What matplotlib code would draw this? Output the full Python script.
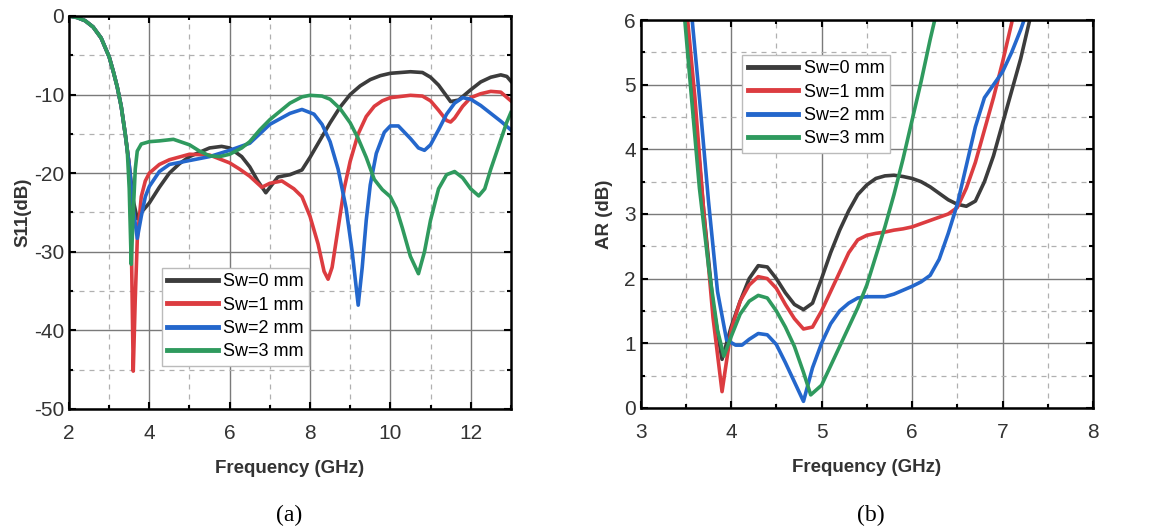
import numpy as np
import matplotlib
matplotlib.use('Agg')
import matplotlib.pyplot as plt
from matplotlib.ticker import MultipleLocator

plt.rcParams['font.family'] = ['Liberation Sans', 'DejaVu Sans']
plt.rcParams['axes.unicode_minus'] = False

# ---- (a) S11 data ----
common_f = [2.0, 2.2, 2.4, 2.6, 2.8, 3.0, 3.1, 3.2, 3.3, 3.4, 3.5]
common_s = [0.0, -0.2, -0.6, -1.4, -2.8, -5.2, -7.0, -9.0, -11.5, -15.0, -19.0]

s0_f = common_f + [3.6, 3.7, 3.8, 4.0, 4.25, 4.5, 4.75, 5.0, 5.5, 5.8, 6.0, 6.3, 6.5, 6.7, 6.9, 7.05,
                   7.2, 7.5, 7.8, 8.0, 8.25, 8.5, 8.75, 9.0, 9.25, 9.5, 9.75, 10.0, 10.5, 10.8, 11.0,
                   11.2, 11.4, 11.5, 11.7, 12.0, 12.25, 12.5, 12.75, 12.9, 13.0]
s0_v = common_s + [-23.5, -25.8, -25.0, -23.8, -21.8, -20.0, -18.8, -17.9, -16.8, -16.6, -16.8, -17.9,
                   -19.2, -21.0, -22.5, -21.5, -20.5, -20.2, -19.6, -18.0, -15.8, -13.6, -11.6, -10.0,
                   -8.9, -8.1, -7.6, -7.3, -7.1, -7.2, -7.8, -8.8, -10.2, -10.9, -10.7, -9.4, -8.4,
                   -7.8, -7.5, -7.7, -8.3]

s1_f = common_f + [3.55, 3.6, 3.65, 3.7, 3.8, 3.9, 4.0, 4.25, 4.5, 5.0, 5.5, 6.0, 6.25, 6.5, 6.8, 7.0,
                   7.3, 7.6, 7.8, 8.0, 8.2, 8.35, 8.45, 8.55, 8.7, 8.85, 9.0, 9.2, 9.4, 9.6, 9.8, 10.0,
                   10.5, 10.8, 11.0, 11.2, 11.4, 11.5, 11.6, 11.8, 12.0, 12.25, 12.5, 12.75, 13.0]
s1_v = common_s + [-28.0, -45.2, -36.0, -28.5, -23.0, -21.0, -20.0, -18.9, -18.3, -17.6, -17.7, -18.7,
                   -19.5, -20.4, -21.8, -21.3, -21.0, -22.0, -23.0, -25.5, -29.0, -32.5, -33.5, -32.0,
                   -27.0, -22.0, -18.5, -15.0, -12.8, -11.5, -10.8, -10.4, -10.1, -10.2, -10.8, -12.0,
                   -13.3, -13.5, -13.0, -11.5, -10.4, -9.9, -9.6, -9.7, -10.8]

s2_f = common_f + [3.6, 3.7, 3.8, 3.9, 4.0, 4.25, 4.5, 5.0, 5.5, 6.0, 6.5, 6.75, 7.0, 7.5, 7.8, 8.1,
                   8.3, 8.5, 8.7, 8.9, 9.05, 9.2, 9.3, 9.4, 9.5, 9.65, 9.85, 10.0, 10.2, 10.5, 10.7,
                   10.85, 11.0, 11.2, 11.4, 11.6, 11.8, 12.0, 12.25, 12.5, 12.75, 13.0]
s2_v = common_s + [-24.5, -28.3, -25.5, -23.0, -21.7, -19.8, -18.9, -18.4, -17.9, -17.1, -16.2, -15.0,
                   -13.8, -12.4, -11.9, -12.5, -13.8, -16.0, -19.5, -24.5, -30.0, -36.8, -32.0, -26.0,
                   -21.5, -17.5, -14.8, -14.0, -14.0, -15.6, -16.8, -17.1, -16.4, -14.5, -12.5, -11.1,
                   -10.4, -10.6, -11.4, -12.4, -13.4, -14.5]

s3_f = common_f[:-1] + [3.45, 3.5, 3.55, 3.6, 3.65, 3.7, 3.8, 4.0, 4.25, 4.6, 5.0, 5.25, 5.5, 5.75, 6.0,
                        6.3, 6.5, 6.75, 7.0, 7.5, 7.8, 8.0, 8.3, 8.5, 8.75, 9.0, 9.2, 9.4, 9.6, 9.8,
                        10.0, 10.15, 10.3, 10.5, 10.7, 10.85, 11.0, 11.2, 11.4, 11.6, 11.8, 12.0, 12.2,
                        12.35, 12.5, 12.7, 12.9, 13.0]
s3_v = common_s[:-1] + [-17.0, -22.0, -31.6, -25.0, -19.5, -17.2, -16.3, -16.0, -15.9, -15.7, -16.4,
                        -17.2, -17.8, -17.9, -17.6, -16.8, -16.0, -14.5, -13.2, -11.1, -10.3, -10.1,
                        -10.2, -10.6, -11.8, -13.6, -15.6, -18.0, -20.8, -22.1, -23.0, -24.5, -27.0,
                        -30.6, -32.8, -30.0, -26.0, -22.0, -20.2, -19.8, -20.6, -22.0, -22.9, -22.0,
                        -19.5, -16.5, -13.5, -12.3]

# ---- (b) AR data ----
ar0_f = [3.48, 3.6, 3.7, 3.8, 3.9, 4.0, 4.1, 4.2, 4.3, 4.4, 4.5, 4.6, 4.7, 4.8, 4.9, 5.0, 5.1, 5.2, 5.3,
         5.4, 5.5, 5.6, 5.7, 5.8, 5.9, 6.0, 6.1, 6.2, 6.3, 6.4, 6.5, 6.6, 6.7, 6.8, 6.9, 7.0, 7.1, 7.2,
         7.3, 7.35]
ar0_v = [6.3, 4.6, 3.0, 1.6, 0.75, 1.25, 1.65, 2.0, 2.2, 2.18, 2.0, 1.78, 1.6, 1.52, 1.62, 2.0, 2.4,
         2.75, 3.05, 3.3, 3.45, 3.55, 3.59, 3.6, 3.58, 3.55, 3.5, 3.42, 3.32, 3.22, 3.15, 3.12, 3.2,
         3.5, 3.9, 4.4, 4.9, 5.4, 6.0, 6.3]

ar1_f = [3.5, 3.6, 3.7, 3.8, 3.9, 4.0, 4.1, 4.2, 4.3, 4.4, 4.5, 4.6, 4.7, 4.8, 4.9, 5.0, 5.1, 5.2, 5.3,
         5.4, 5.5, 5.6, 5.7, 5.8, 5.9, 6.0, 6.2, 6.4, 6.5, 6.6, 6.7, 6.8, 6.9, 7.0, 7.1, 7.15]
ar1_v = [6.3, 4.8, 3.0, 1.4, 0.25, 1.2, 1.65, 1.9, 2.03, 2.0, 1.85, 1.6, 1.38, 1.22, 1.25, 1.5, 1.8,
         2.1, 2.4, 2.6, 2.67, 2.7, 2.72, 2.75, 2.77, 2.8, 2.9, 3.0, 3.1, 3.4, 3.8, 4.3, 4.8, 5.35, 5.95,
         6.3]

ar2_f = [3.55, 3.65, 3.75, 3.85, 3.95, 4.05, 4.12, 4.2, 4.3, 4.4, 4.5, 4.6, 4.7, 4.8, 4.9, 5.0, 5.1,
         5.2, 5.3, 5.4, 5.5, 5.6, 5.7, 5.8, 5.9, 6.0, 6.1, 6.2, 6.3, 6.4, 6.5, 6.6, 6.7, 6.8, 6.9, 7.0,
         7.1, 7.2, 7.25, 7.3]
ar2_v = [6.3, 4.8, 3.2, 1.8, 1.05, 0.97, 0.97, 1.06, 1.15, 1.13, 0.98, 0.7, 0.4, 0.1, 0.62, 1.0, 1.3,
         1.5, 1.62, 1.7, 1.72, 1.72, 1.72, 1.76, 1.82, 1.88, 1.95, 2.05, 2.3, 2.7, 3.15, 3.75, 4.35,
         4.8, 5.0, 5.2, 5.5, 5.85, 6.05, 6.3]

ar3_f = [3.47, 3.55, 3.65, 3.75, 3.85, 3.92, 4.0, 4.1, 4.2, 4.3, 4.4, 4.5, 4.6, 4.7, 4.8, 4.88, 5.0,
         5.1, 5.2, 5.3, 5.4, 5.5, 5.6, 5.7, 5.8, 5.9, 6.0, 6.1, 6.2, 6.25, 6.3]
ar3_v = [6.3, 5.0, 3.4, 2.2, 1.2, 0.8, 1.1, 1.45, 1.65, 1.74, 1.7, 1.5, 1.25, 0.95, 0.55, 0.2, 0.35,
         0.65, 0.95, 1.25, 1.55, 1.9, 2.35, 2.8, 3.3, 3.85, 4.45, 5.05, 5.7, 6.0, 6.3]

labels = ['Sw=0 mm', 'Sw=1 mm', 'Sw=2 mm', 'Sw=3 mm']
colors = ['#3c3c3c', '#dc3c40', '#2467cc', '#2f9a5e']


def style_axes(ax):
    ax.grid(which='major', color='#7a7a7a', lw=1.0, ls='-')
    ax.grid(which='minor', color='#b0b0b0', lw=0.9, ls=(0, (4, 4)))
    ax.set_axisbelow(True)
    ax.tick_params(which='both', direction='in', top=True, right=True, labelsize=15, width=1.5,
                   labelcolor='#333333')
    ax.tick_params(which='major', length=5)
    ax.tick_params(which='minor', length=3)
    ax.tick_params(axis='x', which='major', pad=11)
    for sp in ax.spines.values():
        sp.set_linewidth(1.8)


fig = plt.figure(figsize=(11.69, 5.31), dpi=100)
ax1 = fig.add_axes([0.059, 0.230, 0.378, 0.740])
ax2 = fig.add_axes([0.548, 0.232, 0.387, 0.730])

for f, v, c, lab in zip([s0_f, s1_f, s2_f, s3_f], [s0_v, s1_v, s2_v, s3_v], colors, labels):
    ax1.plot(f, v, color=c, lw=2.6, label=lab, solid_joinstyle='round')
ax1.set_xlim(2, 13)
ax1.set_ylim(-50, 0)
ax1.xaxis.set_major_locator(MultipleLocator(2))
ax1.xaxis.set_minor_locator(MultipleLocator(1))
ax1.yaxis.set_major_locator(MultipleLocator(10))
ax1.yaxis.set_minor_locator(MultipleLocator(5))
style_axes(ax1)
ax1.set_xlabel('Frequency (GHz)', fontsize=13.5, fontweight='bold', labelpad=12, color='#333333')
ax1.set_ylabel('S11(dB)', fontsize=13.5, fontweight='bold', labelpad=2, color='#333333')
leg1 = ax1.legend(loc='lower left', bbox_to_anchor=(0.21, 0.11), fontsize=13, handlelength=2.8,
                  frameon=True, fancybox=False, edgecolor='#bbbbbb', framealpha=1,
                  borderpad=0.3, labelspacing=0.35, handletextpad=0.3, borderaxespad=0)
for ln in leg1.get_lines():
    ln.set_linewidth(3.5)

for f, v, c, lab in zip([ar0_f, ar1_f, ar2_f, ar3_f], [ar0_v, ar1_v, ar2_v, ar3_v], colors, labels):
    ax2.plot(f, v, color=c, lw=2.6, label=lab, solid_joinstyle='round')
ax2.set_xlim(3, 8)
ax2.set_ylim(0, 6)
ax2.xaxis.set_major_locator(MultipleLocator(1))
ax2.xaxis.set_minor_locator(MultipleLocator(0.5))
ax2.yaxis.set_major_locator(MultipleLocator(1))
ax2.yaxis.set_minor_locator(MultipleLocator(0.5))
style_axes(ax2)
ax2.set_xlabel('Frequency (GHz)', fontsize=13.5, fontweight='bold', labelpad=12, color='#333333')
ax2.set_ylabel('AR (dB)', fontsize=13.5, fontweight='bold', labelpad=8, color='#333333')
leg2 = ax2.legend(loc='upper left', bbox_to_anchor=(0.225, 0.91), fontsize=13, handlelength=2.8,
                  frameon=True, fancybox=False, edgecolor='#bbbbbb', framealpha=1,
                  borderpad=0.3, labelspacing=0.35, handletextpad=0.3, borderaxespad=0)
for ln in leg2.get_lines():
    ln.set_linewidth(3.5)

fig.text(0.247, 0.018, '(a)', fontsize=17, family='Liberation Serif', ha='center')
fig.text(0.745, 0.018, '(b)', fontsize=17, family='Liberation Serif', ha='center')

fig.savefig('out.png', dpi=100)
